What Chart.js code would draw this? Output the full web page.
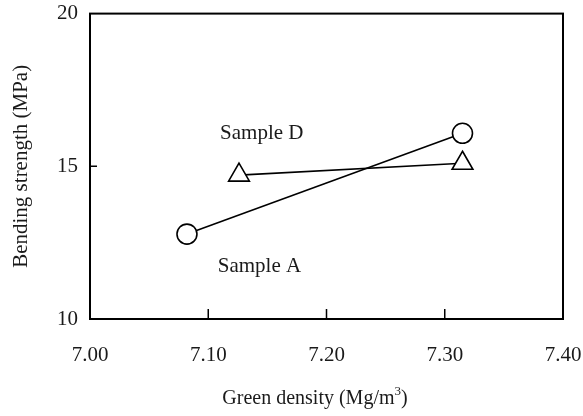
<!DOCTYPE html>
<html>
<head>
<meta charset="utf-8">
<script src="https://cdn.jsdelivr.net/npm/chart.js@4"></script>
<style>
  html, body { margin: 0; padding: 0; background: #fff; }
  #wrap { width: 583px; height: 416px; }
</style>
</head>
<body>
<div id="wrap"><canvas id="myChart" width="583" height="416"></canvas></div>
<script>
// values
const sampleA_density = [7.082, 7.315];
const sampleA_strength = [12.78, 16.08];
const sampleD_density = [7.126, 7.315];
const sampleD_strength = [14.71, 15.10];

const xTicks = [7.00, 7.10, 7.20, 7.30, 7.40];
const yTicks = [10, 15, 20];

const noteLabels = ['Sample D', 'Sample A'];
const noteDensity = [7.110, 7.108];
const noteStrength = [15.90, 11.55];

const serif = "'Liberation Serif', 'Times New Roman', serif";
const ink = '#1a1a1a';

const toPoints = (xs, ys) => xs.map((x, i) => ({ x: x, y: ys[i] }));

// box round the plot, inward tick marks, notes and the x title
const framePlugin = {
  id: 'frame',
  afterDraw(chart) {
    const ctx = chart.ctx;
    const area = chart.chartArea;
    const xs = chart.scales.x;
    const ys = chart.scales.y;
    ctx.save();
    ctx.strokeStyle = '#000';
    ctx.lineWidth = 2;
    ctx.strokeRect(area.left, area.top, area.right - area.left, area.bottom - area.top);

    ctx.lineWidth = 1.5;
    ctx.beginPath();
    xTicks.slice(1, -1).forEach(v => {
      const px = xs.getPixelForValue(v);
      ctx.moveTo(px, area.bottom);
      ctx.lineTo(px, area.bottom - 10);
    });
    yTicks.slice(1, -1).forEach(v => {
      const py = ys.getPixelForValue(v);
      ctx.moveTo(area.left, py);
      ctx.lineTo(area.left + 7, py);
    });
    ctx.stroke();

    ctx.fillStyle = ink;
    ctx.font = '21px ' + serif;
    ctx.textBaseline = 'alphabetic';
    ctx.textAlign = 'left';
    noteLabels.forEach((t, i) => {
      ctx.fillText(t, xs.getPixelForValue(noteDensity[i]), ys.getPixelForValue(noteStrength[i]));
    });

    // x axis title with a real superscript
    const main = 'Green density (Mg/m';
    const sup = '3';
    const tail = ')';
    ctx.font = '20px ' + serif;
    const w1 = ctx.measureText(main).width;
    const w3 = ctx.measureText(tail).width;
    ctx.font = '13px ' + serif;
    const w2 = ctx.measureText(sup).width;
    let x0 = 315 - (w1 + w2 + w3) / 2;
    const base = 404;
    ctx.font = '20px ' + serif;
    ctx.fillText(main, x0, base);
    ctx.font = '13px ' + serif;
    ctx.fillText(sup, x0 + w1, base - 9);
    ctx.font = '20px ' + serif;
    ctx.fillText(tail, x0 + w1 + w2, base);
    ctx.restore();
  }
};

const ctx = document.getElementById('myChart').getContext('2d');

window.myChart = new Chart(ctx, {
  type: 'scatter',
  data: {
    datasets: [{
      label: 'Sample A',
      data: toPoints(sampleA_density, sampleA_strength),
      showLine: true,
      borderColor: '#000',
      borderWidth: 1.6,
      pointStyle: 'circle',
      pointRadius: 10,
      pointBorderWidth: 1.6,
      pointBackgroundColor: '#fff',
      pointBorderColor: '#000'
    }, {
      label: 'Sample D',
      data: toPoints(sampleD_density, sampleD_strength),
      showLine: true,
      borderColor: '#000',
      borderWidth: 1.6,
      pointStyle: 'triangle',
      pointRadius: 12,
      pointBorderWidth: 1.6,
      pointBackgroundColor: '#fff',
      pointBorderColor: '#000'
    }]
  },
  options: {
    responsive: false,
    animation: false,
    layout: { padding: { top: 13, right: 20, left: 0, bottom: 0 } },
    plugins: {
      legend: { display: false },
      tooltip: { enabled: false }
    },
    scales: {
      x: {
        type: 'linear',
        min: 7.0,
        max: 7.4,
        afterBuildTicks: s => { s.ticks = xTicks.map(v => ({ value: v })); },
        afterFit: s => { s.height = 97; s.paddingLeft = 0; s.paddingRight = 0; },
        grid: { display: false, drawTicks: false },
        border: { display: false },
        ticks: {
          padding: 24,
          color: ink,
          font: { family: serif, size: 21 },
          callback: v => v.toFixed(2)
        }
      },
      y: {
        type: 'linear',
        min: 10,
        max: 20,
        afterBuildTicks: s => { s.ticks = yTicks.map(v => ({ value: v })); },
        afterFit: s => { s.width = 90; s.paddingTop = 0; s.paddingBottom = 0; },
        grid: { display: false, drawTicks: false },
        border: { display: false },
        ticks: {
          padding: 12,
          color: ink,
          font: { family: serif, size: 21 }
        },
        title: {
          display: true,
          text: 'Bending strength (MPa)',
          color: ink,
          font: { family: serif, size: 21 },
          padding: { top: 9, bottom: 0 }
        }
      }
    }
  },
  plugins: [framePlugin]
});
</script>
</body>
</html>
